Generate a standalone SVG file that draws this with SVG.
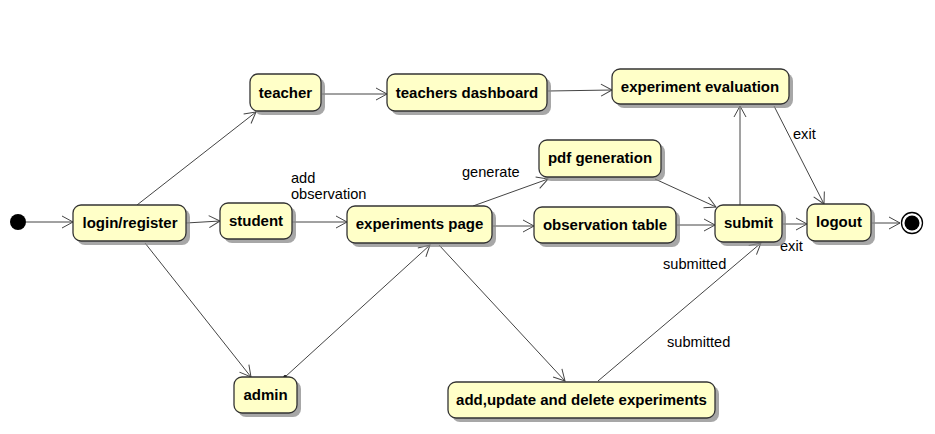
<svg xmlns="http://www.w3.org/2000/svg" width="935" height="434" viewBox="0 0 935 434">
<defs>
<marker id="arr" markerWidth="14" markerHeight="14" refX="12" refY="7" orient="auto" markerUnits="userSpaceOnUse">
<path d="M1,1 L12,7 L1,13" fill="none" stroke="#444" stroke-width="1"/>
</marker>
<marker id="dotm" markerWidth="6" markerHeight="6" refX="3" refY="3" orient="auto" markerUnits="userSpaceOnUse">
<circle cx="3" cy="3" r="1.8" fill="#000"/>
</marker>
</defs>
<style>
.box{fill:#ffffc8;stroke:#333;stroke-width:1.3}
.sh{fill:#8a8a8a;opacity:0.75}
.t{font-family:"Liberation Sans",Arial,sans-serif;font-weight:bold;font-size:15px;fill:#000;text-anchor:middle}
.lb{font-family:"Liberation Sans",Arial,sans-serif;font-size:14.6px;fill:#000}
.c{fill:none;stroke:#444;stroke-width:1;marker-end:url(#arr)}
</style>
<rect width="935" height="434" fill="#fff"/>

<g id="connectors">
<line class="c" x1="26" y1="222" x2="73" y2="222"/>
<line class="c" x1="186" y1="223" x2="220" y2="221"/>
<line class="c" x1="137" y1="205" x2="256" y2="112"/>
<line class="c" x1="145" y1="243" x2="251" y2="377"/>
<line class="c" x1="292" y1="222" x2="347" y2="222"/>
<line class="c" x1="322" y1="94" x2="387" y2="94"/>
<line class="c" x1="548" y1="91" x2="612" y2="90"/>
<line class="c" x1="473" y1="206" x2="548" y2="179"/>
<line class="c" x1="493" y1="226" x2="534" y2="226"/>
<line class="c" x1="655" y1="179" x2="716" y2="207"/>
<line class="c" x1="677" y1="225" x2="715" y2="225"/>
<line class="c" x1="740" y1="205" x2="740" y2="106"/>
<line class="c" x1="774" y1="106" x2="824" y2="204"/>
<line class="c" x1="783" y1="224" x2="807" y2="224"/>
<line class="c" x1="872" y1="223" x2="900" y2="223"/>
<line class="c" x1="285" y1="377" x2="430" y2="245" style="marker-start:url(#dotm)"/>
<line class="c" x1="439" y1="245" x2="565" y2="381"/>
<line class="c" x1="598" y1="381" x2="761" y2="243"/>
<text class="lb" x="291" y="183">add</text>
<text class="lb" x="291" y="199">observation</text>
<text class="lb" x="462" y="177">generate</text>
<text class="lb" x="793" y="139">exit</text>
<text class="lb" x="780" y="251">exit</text>
<text class="lb" x="663" y="269">submitted</text>
<text class="lb" x="667" y="347">submitted</text>
</g>

<g id="start"><circle cx="18" cy="222" r="8" fill="#000"/></g>

<g id="login">
<rect class="sh" x="77" y="209" width="113" height="36" rx="8"/>
<rect class="box" x="73" y="205" width="113" height="36" rx="8"/>
<text class="t" x="130" y="228">login/register</text>
</g>
<g id="student">
<rect class="sh" x="224" y="207" width="72" height="36" rx="8"/>
<rect class="box" x="220" y="203" width="72" height="36" rx="8"/>
<text class="t" x="256" y="226">student</text>
</g>
<g id="teacher">
<rect class="sh" x="254" y="78" width="71" height="37" rx="8"/>
<rect class="box" x="250" y="74" width="71" height="37" rx="8"/>
<text class="t" x="285.5" y="98">teacher</text>
</g>
<g id="teachers-dashboard">
<rect class="sh" x="391" y="78" width="160" height="37" rx="8"/>
<rect class="box" x="387" y="74" width="160" height="37" rx="8"/>
<text class="t" x="467" y="98">teachers dashboard</text>
</g>
<g id="experiment-evaluation">
<rect class="sh" x="616" y="73" width="177" height="35" rx="8"/>
<rect class="box" x="612" y="69" width="177" height="35" rx="8"/>
<text class="t" x="700" y="92">experiment evaluation</text>
</g>
<g id="pdf-generation">
<rect class="sh" x="543" y="144" width="122" height="37" rx="8"/>
<rect class="box" x="539" y="140" width="122" height="37" rx="8"/>
<text class="t" x="600" y="163">pdf generation</text>
</g>
<g id="experiments-page">
<rect class="sh" x="351" y="210" width="145" height="37" rx="8"/>
<rect class="box" x="347" y="206" width="145" height="37" rx="8"/>
<text class="t" x="419.5" y="229">experiments page</text>
</g>
<g id="observation-table">
<rect class="sh" x="538" y="211" width="142" height="36" rx="8"/>
<rect class="box" x="534" y="207" width="142" height="36" rx="8"/>
<text class="t" x="605" y="230">observation table</text>
</g>
<g id="submit">
<rect class="sh" x="719" y="209" width="67" height="37" rx="8"/>
<rect class="box" x="715" y="205" width="67" height="37" rx="8"/>
<text class="t" x="748.5" y="228">submit</text>
</g>
<g id="logout">
<rect class="sh" x="811" y="208" width="64" height="37" rx="8"/>
<rect class="box" x="807" y="204" width="64" height="37" rx="8"/>
<text class="t" x="839" y="227">logout</text>
</g>
<g id="end">
<circle cx="912" cy="223" r="10.5" fill="#fff" stroke="#000" stroke-width="1.3"/>
<circle cx="912" cy="223" r="7.5" fill="#000"/>
</g>
<g id="admin">
<rect class="sh" x="238" y="381" width="63" height="36" rx="8"/>
<rect class="box" x="234" y="377" width="63" height="36" rx="8"/>
<text class="t" x="265.5" y="400">admin</text>
</g>
<g id="add-update-delete">
<rect class="sh" x="452" y="386" width="267" height="36" rx="8"/>
<rect class="box" x="448" y="382" width="267" height="36" rx="8"/>
<text class="t" x="581.5" y="405">add,update and delete experiments</text>
</g>
</svg>
